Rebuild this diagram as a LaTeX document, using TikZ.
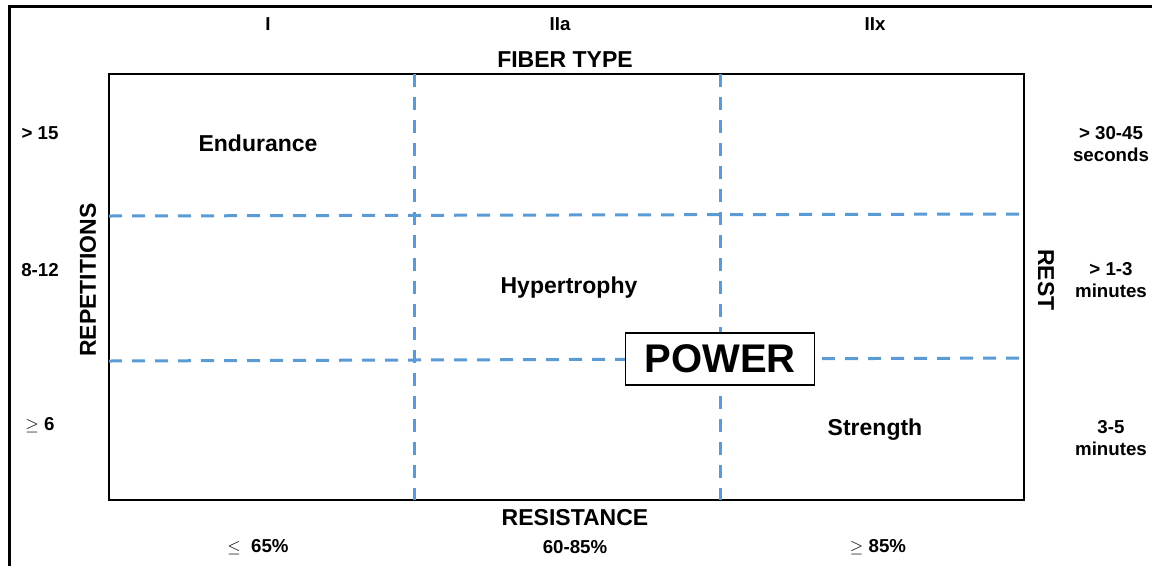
\documentclass[tikz,border=0pt]{standalone}
\usepackage{fontspec}
\setmainfont{Liberation Sans}
\definecolor{gridblue}{RGB}{91,155,213}
\begin{document}
\begin{tikzpicture}
            [x=1pt,y=-1pt,
             lab/.style ={font=\bfseries\fontsize{18.7}{22}\selectfont,align=center,inner sep=0pt},
             big/.style ={font=\bfseries\fontsize{23}{27}\selectfont,inner sep=0pt},
             grid/.style ={gridblue,line width=3pt,dash pattern=on 13pt off 10pt}]
            \useasboundingbox (0,0) rectangle (1152,566);
            \draw[line width=3pt] (9,566) -- (9,6) -- (1152,6);
            \draw[line width=2pt] (109,74) rectangle (1024,500);
            % grid corners
            \coordinate (v1t) at (414,74);  \coordinate (v1b) at (414,500);
            \coordinate (v2t) at (720,74);  \coordinate (v2b) at (720,500);
            \coordinate (h1l) at (109,216); \coordinate (h1r) at (1024,214);
            \coordinate (h2l) at (109,361); \coordinate (h2r) at (1024,358);
            \draw[grid] (v1t) -- (v1b) (v2t) -- (v2b);
            \draw[grid] (h1l) -- (h1r) (h2l) -- (h2r);
            % fiber type
            \node[lab] (t1) at (268,24) {I};
            \node[lab] (t2) at (560,24) {IIa};
            \node[lab] (t3) at (875,24) {IIx};
            \node[big] (fiber) at (565,60) {FIBER TYPE};
            % repetitions
            \node[lab] (r1) at (40,133) {> 15};
            \node[lab] (r2) at (40,270) {8-12};
            \node[lab] (r3) at (40,425) {$\geq$ 6};
            \node[big,rotate=90] (reps) at (88,280) {REPETITIONS};
            % zones
            \node[big] (endur) at (258,143) {Endurance};
            \node[big] (hyper) at (569,288) {Hypertrophy};
            \node[big] (strength) at (875,430) {Strength};
            \node[draw,line width=1.5pt,fill=white,minimum width=189pt,minimum height=52pt,
                  font=\bfseries\fontsize{40}{44}\selectfont] (power) at (720,359) {POWER};
            % rest
            \node[big,rotate=-90] (rest) at (1046,280) {REST};
            \node[lab] (s1) at (1111,144) {> 30-45\\seconds};
            \node[lab] (s2) at (1111,280) {> 1-3\\minutes};
            \node[lab] (s3) at (1111,438) {3-5\\minutes};
            % resistance
            \node[big] (resist) at (575,518) {RESISTANCE};
            \node[lab] (p1) at (258,547) {$\leq$\ \ 65\%};
            \node[lab] (p2) at (575,547) {60-85\%};
            \node[lab] (p3) at (878,547) {$\geq$ 85\%};
        \end{tikzpicture}
\end{document}
